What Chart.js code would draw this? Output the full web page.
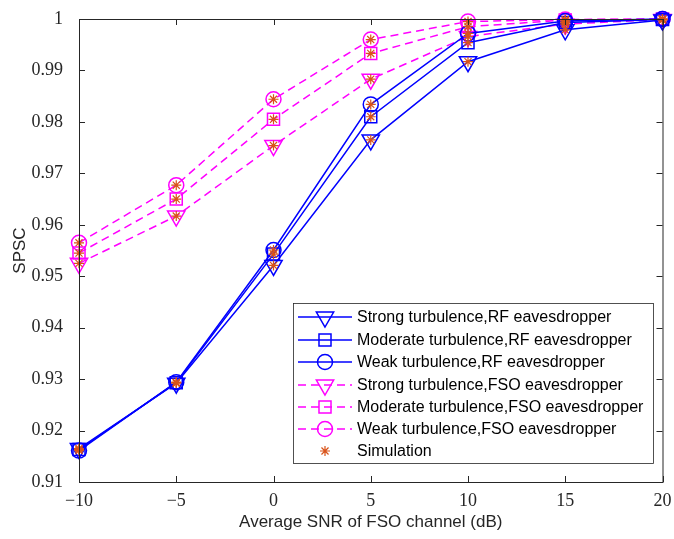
<!DOCTYPE html>
<html>
<head>
<meta charset="utf-8">
<script src="https://cdn.jsdelivr.net/npm/chart.js@4"></script>
<style>
  html, body { margin: 0; padding: 0; background: #fff; }
  #wrap { width: 674px; height: 539px; }
</style>
</head>
<body>
<div id="wrap"><canvas id="chart-1"></canvas></div>
<script>
const snr = [-10, -5, 0, 5, 10, 15, 20];
const rfStrong   = [0.9165, 0.9292, 0.9521, 0.9765, 0.9917, 0.9979, 0.9998];
const rfModerate = [0.9163, 0.9293, 0.9543, 0.9810, 0.9954, 0.9993, 0.9999];
const rfWeak     = [0.9161, 0.9294, 0.9551, 0.9834, 0.9972, 0.9996, 1.0000];
const fsoStrong   = [0.9525, 0.9617, 0.9754, 0.9883, 0.9966, 0.9990, 0.9999];
const fsoModerate = [0.9545, 0.9650, 0.9805, 0.9933, 0.9985, 0.9998, 1.0000];
const fsoWeak     = [0.9565, 0.9677, 0.9844, 0.9960, 0.9995, 0.9999, 1.0000];
const seriesNames = [
    'Strong turbulence,RF eavesdropper',
    'Moderate turbulence,RF eavesdropper',
    'Weak turbulence,RF eavesdropper',
    'Strong turbulence,FSO eavesdropper',
    'Moderate turbulence,FSO eavesdropper',
    'Weak turbulence,FSO eavesdropper',
    'Simulation'
];

const BLUE = '#0000ff';
const MAGENTA = '#ff00ff';
const ORANGE = '#d95319';
const AXIS = '#262626';

const toPts = (ys) => ys.map((y, i) => ({x: snr[i], y: y}));

function line(name, ys, color, dashed, style, radius, rot) {
    return {
        label: name,
        data: toPts(ys),
        borderColor: color,
        borderWidth: 1.5,
        borderDash: dashed ? [8, 5] : [],
        pointStyle: style,
        pointRadius: radius,
        pointRotation: rot || 0,
        pointBorderColor: color,
        pointBackgroundColor: 'rgba(0,0,0,0)',
        pointBorderWidth: 1.5,
        showLine: true,
        fill: false,
        clip: false,
        order: 2
    };
}

const allSeries = [rfStrong, rfModerate, rfWeak, fsoStrong, fsoModerate, fsoWeak];
const simPts = [];
allSeries.forEach(s => s.forEach((y, i) => simPts.push({x: snr[i], y: y})));

const datasets = [
    line(seriesNames[0], rfStrong, BLUE, false, 'triangle', 10, 180),
    line(seriesNames[1], rfModerate, BLUE, false, 'rect', 8.5),
    line(seriesNames[2], rfWeak, BLUE, false, 'circle', 7.5),
    line(seriesNames[3], fsoStrong, MAGENTA, true, 'triangle', 10, 180),
    line(seriesNames[4], fsoModerate, MAGENTA, true, 'rect', 8.5),
    line(seriesNames[5], fsoWeak, MAGENTA, true, 'circle', 7.5),
    {
        label: seriesNames[6],
        data: simPts,
        showLine: false,
        pointStyle: 'star',
        pointRadius: 5,
        pointBorderColor: ORANGE,
        pointBorderWidth: 1.2,
        clip: false,
        order: 0
    }
];

// box, inner ticks and matlab style legend
const matlabAxes = {
    id: 'matlabAxes',
    afterDraw(chart) {
        const ctx = chart.ctx;
        const a = chart.chartArea;
        const xs = chart.scales.x, ys = chart.scales.y;
        ctx.save();
        ctx.strokeStyle = AXIS;
        ctx.lineWidth = 1;
        ctx.setLineDash([]);
        ctx.strokeRect(a.left + 0.5, a.top + 0.5, a.right - a.left, a.bottom - a.top);
        const tl = 6;
        ctx.beginPath();
        xs.ticks.forEach(t => {
            const px = Math.round(xs.getPixelForValue(t.value)) + 0.5;
            ctx.moveTo(px, a.bottom); ctx.lineTo(px, a.bottom - tl);
            ctx.moveTo(px, a.top); ctx.lineTo(px, a.top + tl);
        });
        ys.ticks.forEach(t => {
            const py = Math.round(ys.getPixelForValue(t.value)) + 0.5;
            ctx.moveTo(a.left, py); ctx.lineTo(a.left + tl, py);
            ctx.moveTo(a.right, py); ctx.lineTo(a.right - tl, py);
        });
        ctx.stroke();

        // legend
        const lx = 293, ly = 303, lw = 360, lh = 160;
        ctx.fillStyle = '#fff';
        ctx.fillRect(lx, ly, lw, lh);
        ctx.strokeStyle = AXIS;
        ctx.lineWidth = 0.8;
        ctx.strokeRect(lx + 0.5, ly + 0.5, lw, lh);
        const rowY = [317, 340, 362, 385, 407, 429, 451];
        ctx.font = '16px "Liberation Sans", Arial, sans-serif';
        ctx.textBaseline = 'middle';
        chart.data.datasets.forEach((ds, i) => {
            const y = rowY[i];
            if (ds.showLine) {
                ctx.strokeStyle = ds.borderColor;
                ctx.lineWidth = 1.5;
                ctx.setLineDash(ds.borderDash);
                ctx.beginPath();
                ctx.moveTo(298, y); ctx.lineTo(352, y);
                ctx.stroke();
                ctx.setLineDash([]);
            }
            ctx.strokeStyle = ds.pointBorderColor;
            ctx.fillStyle = 'rgba(0,0,0,0)';
            ctx.lineWidth = ds.pointBorderWidth;
            Chart.helpers.drawPoint(ctx, {
                pointStyle: ds.pointStyle,
                rotation: ds.pointRotation || 0,
                radius: ds.pointRadius,
                borderWidth: ds.pointBorderWidth
            }, 325, y);
            ctx.fillStyle = '#000';
            ctx.fillText(ds.label, 357, y + 1);
        });
        ctx.restore();
    }
};

const chart1 = new Chart(document.getElementById('chart-1'), {
    type: 'scatter',
    data: { datasets: datasets },
    options: {
        responsive: true,
        maintainAspectRatio: false,
        animation: false,
        layout: { padding: { top: 19, right: 8, left: 0, bottom: 0 } },
        scales: {
            x: {
                type: 'linear',
                min: -10,
                max: 20,
                ticks: {
                    stepSize: 5,
                    padding: 0,
                    color: AXIS,
                    font: { family: '"Liberation Serif", serif', size: 18 },
                    callback: (v) => String(v).replace('-', '\u2212')
                },
                grid: { display: false },
                border: { display: false },
                title: {
                    display: true,
                    text: 'Average SNR of FSO channel (dB)',
                    color: AXIS,
                    font: { family: '"Liberation Sans", Arial, sans-serif', size: 17 },
                    padding: { top: 4, bottom: 6 }
                },
                afterFit: (s) => { s.height = 57; s.paddingRight = 0; s.paddingLeft = 0; }
            },
            y: {
                min: 0.91,
                max: 1,
                ticks: {
                    stepSize: 0.01,
                    padding: 8,
                    color: AXIS,
                    font: { family: '"Liberation Serif", serif', size: 18 },
                    callback: (v) => String(+v.toFixed(2))
                },
                grid: { display: false },
                border: { display: false },
                title: {
                    display: true,
                    text: 'SPSC',
                    color: AXIS,
                    font: { family: '"Liberation Sans", Arial, sans-serif', size: 17 },
                    padding: { top: 10, bottom: 0 }
                },
                afterFit: (s) => { s.width = 79; s.paddingTop = 0; s.paddingBottom = 0; }
            }
        },
        plugins: {
            legend: { display: false },
            tooltip: { enabled: false }
        }
    },
    plugins: [matlabAxes]
});
</script>
</body>
</html>
